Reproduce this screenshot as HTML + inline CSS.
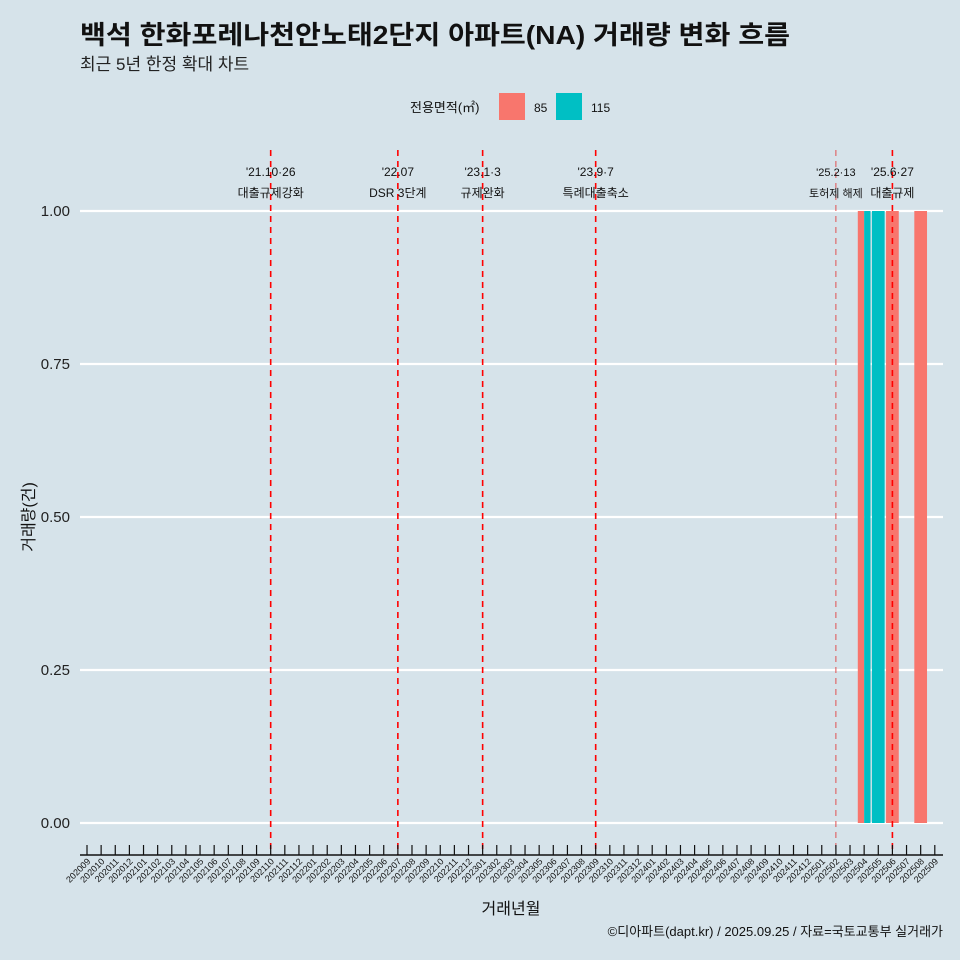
<!DOCTYPE html>
<html><head><meta charset="utf-8"><style>
html,body{margin:0;padding:0;background:#d6e3ea;overflow:hidden;width:960px;height:960px;}
svg{display:block;}
svg text{font-family:"Liberation Sans","Noto Sans CJK KR",sans-serif;}
</style></head><body>
<svg id="chart" width="960" height="960" xmlns="http://www.w3.org/2000/svg">
<rect width="960" height="960" fill="#d6e3ea"/>
<text x="80" y="44" font-size="26" font-weight="bold" fill="#111" textLength="710" lengthAdjust="spacingAndGlyphs">백석 한화포레나천안노태2단지 아파트(NA) 거래량 변화 흐름</text>
<text x="80" y="70" font-size="17" fill="#222">최근 5년 한정 확대 차트</text>
<g>
<text x="410" y="112" font-size="13" fill="#111">전용면적(㎡)</text>
<rect x="499" y="93" width="26" height="27" fill="#f8766d"/>
<text x="534" y="112" font-size="12" fill="#111">85</text>
<rect x="556" y="93" width="26" height="27" fill="#00bfc4"/>
<text x="591" y="112" font-size="12" fill="#111">115</text>
</g>
<g id="grid"></g><g id="bars"></g><g id="events"></g><g id="axes"></g>
<text x="511" y="914" font-size="16" text-anchor="middle" fill="#111">거래년월</text>
<text transform="translate(34,517) rotate(-90)" font-size="16" text-anchor="middle" fill="#111">거래량(건)</text>
<text x="943" y="936" font-size="13" text-anchor="end" fill="#111">©디아파트(dapt.kr) / 2025.09.25 / 자료=국토교통부 실거래가</text>
</svg>
<script>
const months = [];
for (let y = 2020, m = 9; y * 100 + m <= 202509; m++) { if (m > 12) { m = 1; y++; } months.push(String(y * 100 + m)); }
const yTicks = [0, 0.25, 0.5, 0.75, 1];
const yTickLabels = ["0.00", "0.25", "0.50", "0.75", "1.00"];
const bars85Months = ["202504", "202506", "202508"];
const bars85Values = [1, 1, 1];
const bars115Months = ["202504", "202505"];
const bars115Values = [1, 1];
const eventMonths = ["202110", "202207", "202301", "202309", "202502", "202506"];
const eventDates = ["'21.10·26", "'22.07", "'23.1·3", "'23.9·7", "'25.2·13", "'25.6·27"];
const eventLabels = ["대출규제강화", "DSR 3단계", "규제완화", "특례대출축소", "토허제 해제", "대출규제"];

const NS = "http://www.w3.org/2000/svg";
const X0 = 87, DX = 14.13, Y0 = 823, Y1 = 211;
const xs = m => X0 + months.indexOf(m) * DX;
const ys = v => Y0 - (Y0 - Y1) * v;
function mk(tag, attrs, parent, text) {
  const e = document.createElementNS(NS, tag);
  for (const k in attrs) e.setAttribute(k, attrs[k]);
  if (text !== undefined) e.textContent = text;
  document.getElementById(parent).appendChild(e);
  return e;
}
yTicks.forEach((t, i) => {
  const l = mk("line", {x1: 80, x2: 943, y1: ys(t), y2: ys(t), stroke: "#fff", "stroke-width": 2.2}, "grid");
  
  
  const tx = mk("text", {x: 70, y: ys(t) + 5, "font-size": 15, "text-anchor": "end", fill: "#222"}, "axes", yTickLabels[i]);
  
  
});
const BW = DX * 0.9;
const both = bars85Months.filter(m => bars115Months.includes(m));
bars85Months.forEach((m, i) => {
  const dodge = both.includes(m);
  const w = dodge ? BW / 2 : BW;
  const x = xs(m) - BW / 2;
  const r = mk("rect", {x: x, y: ys(bars85Values[i]), width: w, height: ys(0) - ys(bars85Values[i]), fill: "#f8766d"}, "bars");
  
  
});
bars115Months.forEach((m, i) => {
  const dodge = both.includes(m);
  const w = dodge ? BW / 2 : BW;
  const x = dodge ? xs(m) : xs(m) - BW / 2;
  const r = mk("rect", {x: x, y: ys(bars115Values[i]), width: w, height: ys(0) - ys(bars115Values[i]), fill: "#00bfc4"}, "bars");
  
  
});
eventMonths.forEach((m, i) => {
  const x = xs(m);
  const light = m === "202502";
  const l = mk("line", {x1: x, x2: x, y1: 150, y2: 855, stroke: light ? "#e05050" : "#ff0000", "stroke-width": light ? 1 : 1.6, "stroke-dasharray": "6,5"}, "events");
  
  
  const fs = light ? 11 : 12;
  const t1 = mk("text", {x: x, y: 176, "font-size": fs, "text-anchor": "middle", fill: "#111"}, "events", eventDates[i]);
  
  
  const t2 = mk("text", {x: x, y: 197, "font-size": fs, "text-anchor": "middle", fill: "#111"}, "events", eventLabels[i]);
  
  
});
const ax = mk("line", {x1: 80, x2: 943, y1: 855, y2: 855, stroke: "#111", "stroke-width": 1.5}, "axes");


months.forEach(m => {
  const x = xs(m);
  const t = mk("line", {x1: x, x2: x, y1: 845, y2: 855, stroke: "#111", "stroke-width": 1.2}, "axes");
  
  
  const lb = mk("text", {transform: `translate(${x + 4},${862}) rotate(-45)`, "font-size": 9, "text-anchor": "end", fill: "#111"}, "axes", m);
  
  
});
</script>
</body></html>
